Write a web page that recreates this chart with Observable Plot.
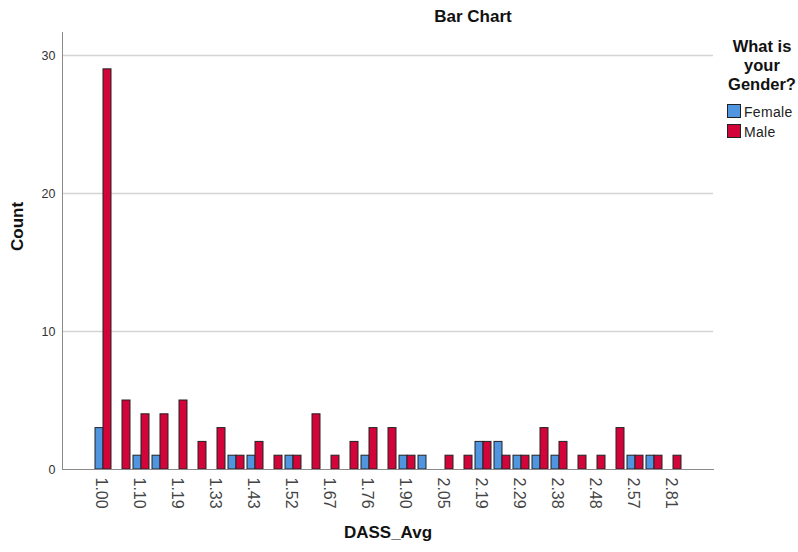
<!DOCTYPE html>
<html><head><meta charset="utf-8">
<script src="https://cdn.jsdelivr.net/npm/d3@7"></script>
<script src="https://cdn.jsdelivr.net/npm/@observablehq/plot@0.6"></script>
<style>
body{margin:0;background:#fff;font-family:"Liberation Sans",Arial,sans-serif;}
#wrap{position:relative;width:798px;height:552px;}
#title{position:absolute;left:373px;width:200px;top:8px;text-align:center;font-weight:bold;font-size:17px;line-height:17px;color:#111;}
#legtitle{position:absolute;left:712px;width:100px;top:37px;text-align:center;font-weight:bold;font-size:16.5px;line-height:19px;color:#111;}
.sw{position:absolute;left:727px;width:12px;height:12px;border:1px solid #222;}
.lab{position:absolute;left:744px;font-size:14px;line-height:14px;color:#222;letter-spacing:0.3px;}
</style></head>
<body>
<div id="wrap"></div>
<script>
const titleText = "Bar Chart";
const xLabel = "DASS_Avg";
const yLabel = "Count";
const legendTitle = ["What is", "your", "Gender?"];
const genders = ["Female", "Male"];
const genderColors = ["#4f95e0", "#d2043a"];
const categories = ["1.00","1.05","1.10","1.14","1.19","1.24","1.33","1.38","1.43","1.48","1.52","1.62","1.67","1.71","1.76","1.86","1.90","2.00","2.05","2.14","2.19","2.24","2.29","2.33","2.38","2.43","2.48","2.52","2.57","2.67","2.81"];
const female = [3,0,1,1,0,0,0,1,1,0,1,0,0,0,1,0,1,1,0,0,2,2,1,1,1,0,0,0,1,1,0];
const male   = [29,5,4,4,5,2,3,1,2,1,1,4,1,2,3,3,1,0,1,1,2,1,1,3,2,1,1,3,1,1,1];
const yTicks = [0,10,20,30];
const labeledTicks = categories.filter((d,i)=>i%2===0);

const rows = [];
categories.forEach((c,i)=>{
  rows.push({cat:c, gender:"Female", count:female[i]});
  rows.push({cat:c, gender:"Male", count:male[i]});
});

const font = "Liberation Sans, Arial, sans-serif";
const plot = Plot.plot({
  width:798, height:552,
  marginLeft:62, marginRight:85, marginTop:32, marginBottom:83,
  style:{fontFamily:font, background:"white", color:"#333"},
  x:{type:"band", domain:categories, paddingInner:0.16, paddingOuter:1.68},
  y:{domain:[0,31.67]},
  color:{domain:genders, range:genderColors},
  marks:[
    Plot.ruleY(yTicks.filter(d=>d>0), {stroke:"#d4d4d4", strokeWidth:1.5}),
    Plot.barY(rows.filter(d=>d.gender==="Female" && d.count>0), {x:"cat", y:"count", fill:"gender", stroke:"#222", strokeWidth:1, insetRight:8}),
    Plot.barY(rows.filter(d=>d.gender==="Male" && d.count>0), {x:"cat", y:"count", fill:"gender", stroke:"#222", strokeWidth:1, insetLeft:8}),
    Plot.frame({anchor:"left", stroke:"#8a8a8a"}),
    Plot.frame({anchor:"bottom", stroke:"#8a8a8a"}),
    Plot.axisY({ticks:yTicks, tickSize:0, tickPadding:7, fontSize:12.5, label:null}),
    Plot.axisX({ticks:labeledTicks, tickSize:0, tickPadding:8, tickRotate:90, fontSize:16, dx:-2, label:null, fill:"#444"}),
    Plot.text([yLabel], {text:d=>d, frameAnchor:"left", rotate:-90, dx:-45, fontWeight:"bold", fontSize:17, fill:"#111"}),
    Plot.text([xLabel], {text:d=>d, frameAnchor:"bottom", dy:68, fontWeight:"bold", fontSize:17, fill:"#111"})
  ]
});
const wrap = document.getElementById("wrap");
wrap.appendChild(plot);
const t = document.createElement("div"); t.id="title"; t.textContent=titleText; wrap.appendChild(t);
const lt = document.createElement("div"); lt.id="legtitle"; lt.innerHTML=legendTitle.join("<br>"); wrap.appendChild(lt);
genders.forEach((g,i)=>{
  const s=document.createElement("div"); s.className="sw"; s.style.top=(104+20*i)+"px"; s.style.background=genderColors[i]; wrap.appendChild(s);
  const l=document.createElement("div"); l.className="lab"; l.style.top=(105+20*i)+"px"; l.textContent=g; wrap.appendChild(l);
});
</script>
</body></html>
